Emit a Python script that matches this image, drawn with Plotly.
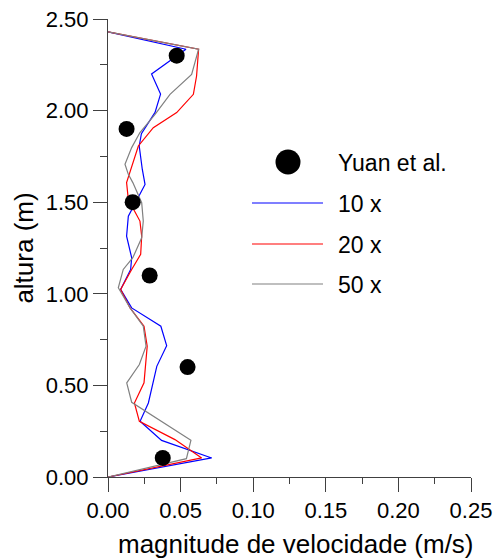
import plotly.graph_objects as go

# Yuan et al. experimental points
yuan_v = [0.0473, 0.0128, 0.0170, 0.0287, 0.0548, 0.0377]
yuan_h = [2.30, 1.90, 1.50, 1.10, 0.60, 0.104]

# 10 x
b_v = [0.0, 0.0537, 0.0300, 0.0362, 0.0324, 0.0230, 0.0215, 0.0236, 0.0255, 0.0140, 0.0128,
       0.0163, 0.0156, 0.0087, 0.0163, 0.0364, 0.0404, 0.0336, 0.0278, 0.0221, 0.0369, 0.0714, 0.0]
b_h = [2.43, 2.335, 2.20, 2.09, 1.99, 1.874, 1.807, 1.68, 1.597, 1.424, 1.315,
       1.197, 1.133, 1.024, 0.923, 0.823, 0.717, 0.604, 0.404, 0.304, 0.20, 0.104, 0.0]

# 20 x
r_v = [0.0, 0.0624, 0.0610, 0.0588, 0.0473, 0.0312, 0.0209, 0.0147, 0.0128, 0.0140, 0.0220,
       0.0232, 0.0225, 0.0163, 0.0087, 0.0152, 0.0248, 0.0270, 0.0248, 0.0182, 0.0216, 0.0461, 0.0645, 0.0]
r_h = [2.43, 2.335, 2.189, 2.089, 1.989, 1.907, 1.807, 1.652, 1.607, 1.515, 1.397,
       1.315, 1.215, 1.133, 1.024, 0.923, 0.823, 0.714, 0.514, 0.404, 0.304, 0.204, 0.104, 0.0]

# 50 x
g_v = [0.0, 0.0624, 0.0576, 0.0427, 0.0324, 0.0220, 0.0163, 0.0117, 0.0140, 0.0171, 0.0232,
       0.0243, 0.0232, 0.0171, 0.0105, 0.0071, 0.0152, 0.0243, 0.0262, 0.0216, 0.0129, 0.0163, 0.0571, 0.0540, 0.0]
g_h = [2.43, 2.335, 2.198, 2.089, 1.98, 1.88, 1.798, 1.707, 1.652, 1.607, 1.497,
       1.397, 1.306, 1.197, 1.133, 1.033, 0.923, 0.823, 0.714, 0.614, 0.514, 0.408, 0.20, 0.10, 0.0]

legend_names = ["Yuan et al.", "10 x", "20 x", "50 x"]
x_ticks = [0.0, 0.05, 0.10, 0.15, 0.20, 0.25]
y_ticks = [0.0, 0.5, 1.0, 1.5, 2.0, 2.5]
x_title = "magnitude de velocidade (m/s)"
y_title = "altura (m)"

FONT = "Liberation Sans, Arial, sans-serif"
FS = 22

fig = go.Figure()
fig.add_trace(go.Scatter(x=b_v, y=b_h, mode="lines", line=dict(color="#0000ff", width=1.2), name=legend_names[1]))
fig.add_trace(go.Scatter(x=r_v, y=r_h, mode="lines", line=dict(color="#ff0000", width=1.2), name=legend_names[2]))
fig.add_trace(go.Scatter(x=g_v, y=g_h, mode="lines", line=dict(color="#808080", width=1.2), name=legend_names[3]))
fig.add_trace(go.Scatter(x=yuan_v, y=yuan_h, mode="markers", marker=dict(color="black", size=16), name=legend_names[0]))

# manual legend (paper coords)
W, H = 496, 559
ml, mr, mt, mb = 108, 25, 19, 82
pw, ph = W - ml - mr, H - mt - mb
def px(x): return (x - ml) / pw
def py(y): return 1 - (y - mt) / ph

shapes = []
annotations = []
shapes.append(dict(type="circle", xref="paper", yref="paper",
                   x0=px(288 - 12.5), x1=px(288 + 12.5), y0=py(162 + 12.5), y1=py(162 - 12.5),
                   fillcolor="black", line=dict(width=0)))
annotations.append(dict(x=px(336), y=py(163), xref="paper", yref="paper", text=legend_names[0],
                        showarrow=False, xanchor="left", yanchor="middle", font=dict(size=23, family=FONT, color="black")))
for yy, col, name in [(203, "#0000ff", legend_names[1]), (244, "#ff0000", legend_names[2]), (284, "#808080", legend_names[3])]:
    shapes.append(dict(type="line", xref="paper", yref="paper", x0=px(252), x1=px(323), y0=py(yy), y1=py(yy),
                       line=dict(color=col, width=1.2)))
    annotations.append(dict(x=px(336), y=py(yy + 1), xref="paper", yref="paper", text=name,
                            showarrow=False, xanchor="left", yanchor="middle", font=dict(size=23, family=FONT, color="black")))
# x-axis title
annotations.append(dict(x=px(295.5), y=py(544), xref="paper", yref="paper", text=x_title, showarrow=False,
                        xanchor="center", yanchor="middle", font=dict(size=26, family=FONT, color="black")))

fig.update_layout(
    width=W, height=H,
    margin=dict(l=ml, r=mr, t=mt, b=mb, autoexpand=False),
    plot_bgcolor="white", paper_bgcolor="white",
    showlegend=False,
    font=dict(family=FONT, size=FS, color="black"),
    shapes=shapes, annotations=annotations,
)
fig.update_xaxes(range=[0, 0.25], tickvals=x_ticks, tickformat=".2f", showgrid=False, zeroline=False, automargin=False,
                 showline=True, linecolor="#404040", linewidth=1, ticks="outside", ticklen=14, tickcolor="#404040",
                 minor=dict(ticks="outside", ticklen=6, dtick=0.025, tick0=0, tickcolor="#404040"),
                 tickfont=dict(size=FS))
fig.update_yaxes(range=[0, 2.5], tickvals=y_ticks, tickformat=".2f", showgrid=False, zeroline=False, automargin=False,
                 showline=True, linecolor="#404040", linewidth=1, ticks="outside", ticklen=14, tickcolor="#404040",
                 minor=dict(ticks="outside", ticklen=7, dtick=0.25, tick0=0, tickcolor="#404040"),
                 title=dict(text=y_title, standoff=4), tickfont=dict(size=FS))

fig.write_html("out.html", config={"displayModeBar": False},
               post_script="document.body.style.margin='0';document.body.style.overflow='hidden';")
